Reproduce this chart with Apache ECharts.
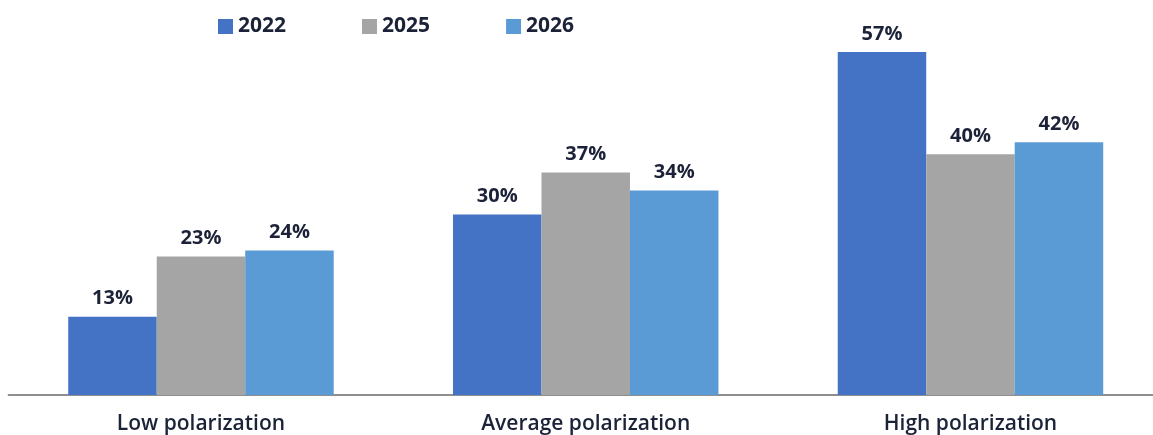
<!DOCTYPE html>
<html>
<head>
<meta charset="utf-8">
<script src="https://cdn.jsdelivr.net/npm/echarts@6/dist/echarts.min.js"></script>
<style>
  html, body { margin: 0; padding: 0; background: #fff; }
  #chart { width: 1153px; height: 435px; }
</style>
</head>
<body>
<div id="chart"></div>
<script>
// Share of respondents by level of polarization, per survey year
const categories = ['Low polarization', 'Average polarization', 'High polarization'];
const years = ['2022', '2025', '2026'];
const values2022 = [13, 30, 57];
const values2025 = [23, 37, 40];
const values2026 = [24, 34, 42];
const seriesColors = ['#4472c4', '#a5a5a5', '#5b9bd5'];

const textColor = '#1c2338';
const font = '"Open Sans", "Liberation Sans", sans-serif';

const chart = echarts.init(document.getElementById('chart'), null, { renderer: 'canvas' });

const makeSeries = (name, data, color) => ({
  name: name,
  type: 'bar',
  data: data,
  barGap: '0%',
  barCategoryGap: '31%',
  itemStyle: { color: color },
  label: {
    show: true,
    position: 'top',
    distance: 8,
    formatter: '{c}%',
    fontFamily: font,
    fontWeight: 'bold',
    fontSize: 20,
    color: textColor
  }
});

chart.setOption({
  animation: false,
  backgroundColor: '#ffffff',
  legend: {
    data: years,
    left: 213,
    top: 11,
    itemWidth: 15,
    itemHeight: 15,
    itemGap: 76,
    icon: 'rect',
    textStyle: { fontFamily: font, fontWeight: 'bold', fontSize: 21, color: textColor }
  },
  // the plot runs slightly past the right edge so the axis line meets it
  grid: {
    left: 8.6,
    width: 1154.25,
    top: 34,
    bottom: 40,
    containLabel: false,
    outerBoundsMode: 'none'
  },
  xAxis: {
    type: 'category',
    data: categories,
    axisLine: { show: true, lineStyle: { color: '#8f8f8f', width: 2 } },
    axisTick: { show: false },
    axisLabel: {
      margin: 19,
      fontFamily: font,
      fontWeight: 600,
      fontSize: 21,
      color: textColor
    }
  },
  yAxis: {
    type: 'value',
    min: 0,
    max: 60,
    show: false,
    splitLine: { show: false }
  },
  series: [
    makeSeries(years[0], values2022, seriesColors[0]),
    makeSeries(years[1], values2025, seriesColors[1]),
    makeSeries(years[2], values2026, seriesColors[2])
  ]
});
</script>
</body>
</html>
